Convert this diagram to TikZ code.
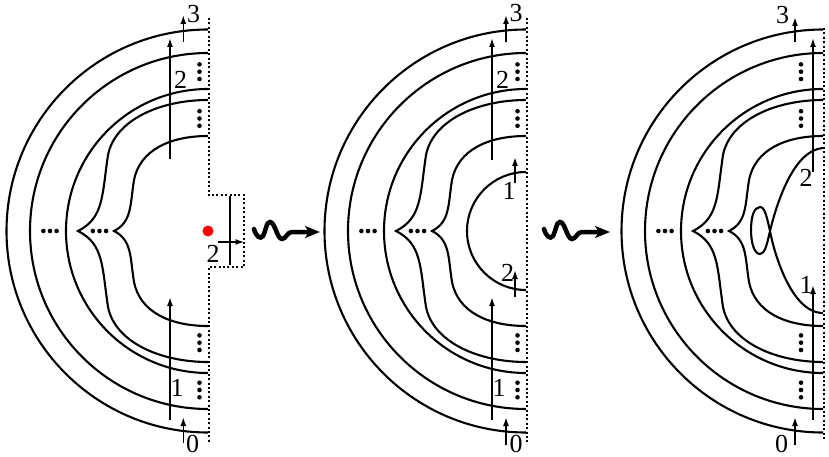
\documentclass[tikz,border=0pt]{standalone}
\usepackage{fontspec}
\setmainfont{Liberation Serif}
\usetikzlibrary{arrows.meta}
\newcommand{\vdt}[2]{\fill (#1,#2-7.3) circle[radius=2.3pt] (#1,#2) circle[radius=2.3pt] (#1,#2+7.3) circle[radius=2.3pt];}
\newcommand{\hdt}[2]{\fill (#1-6.6,#2) circle[radius=2.3pt] (#1,#2) circle[radius=2.3pt] (#1+6.6,#2) circle[radius=2.3pt];}
\newcommand{\basefig}{%
  \draw[curve] (208,29.5) arc[start angle=90,end angle=270,radius=201.5pt];
  \draw[curve] (208,53) arc[start angle=90,end angle=270,radius=178pt];
  \draw[curve] (208,89) arc[start angle=90,end angle=270,radius=142pt];
  \draw[curve] (208,100) .. controls (160,100) and (115,120) .. (108,155)
     .. controls (102,195) and (104,218) .. (78,231)
     .. controls (104,244) and (102,267) .. (108,307)
     .. controls (115,342) and (160,362) .. (208,362);
  \draw[curve] (208,136) .. controls (170,136) and (140,150) .. (134,180)
     .. controls (130,205) and (132,222) .. (114,231)
     .. controls (132,240) and (130,257) .. (134,282)
     .. controls (140,312) and (170,326) .. (208,326);
  \hdt{50}{231}
  \hdt{99.5}{231}
}
\newcommand{\squig}{%
  \draw[wave] (254,229) .. controls (256,236) and (260,240) .. (263,236)
     .. controls (266,231) and (266,222) .. (270,222)
     .. controls (275,222) and (277,239) .. (282,239)
     .. controls (286,239) and (287,232) .. (292,232) -- (320,232);
}
\begin{document}
\begin{tikzpicture}[x=1pt,y=-1pt,
  curve/.style={line width=2.1pt},
  arr/.style={line width=1.6pt,-{Latex[length=9pt,width=6pt]}},
  bound/.style={line width=2pt,dash pattern=on 2pt off 2.4pt},
  lab/.style={font=\fontsize{26}{26}\selectfont,inner sep=0pt,anchor=center},
  wave/.style={line width=4.5pt,line cap=round,-{Stealth[length=15pt,width=12pt,inset=4pt]}}]
\useasboundingbox (0,0) rectangle (829,457);

% ---------- left figure ----------
\basefig
\draw[bound] (208.5,18) -- (208.5,195) -- (244,195) -- (244,267) -- (208.5,267) -- (208.5,443);
\vdt{199.5}{71.7}
\vdt{199.5}{118.5}
\vdt{199.5}{342.7}
\vdt{199.5}{390}
\draw[arr] (183.3,42) -- (183.3,15);
\draw[arr] (170,159) -- (170,38);
\draw[arr] (170,420) -- (170,297);
\draw[arr] (183.3,443) -- (183.3,417);
\draw[line width=1.8pt] (230,196) -- (230,265);
\draw[arr] (218,242) -- (244.5,242);
\fill[red] (208,231) circle[radius=5.5pt];
\node[lab] (l3) at (193.5,14.5) {3};
\node[lab] (l2) at (180.5,79.5) {2};
\node[lab] (l1) at (177,388) {1};
\node[lab] (l0) at (192.5,444) {0};
\node[lab] (ln) at (213,253.5) {2};

% ---------- squiggle arrows ----------
\squig
\begin{scope}[xshift=290pt]
\squig
\end{scope}

% ---------- middle figure ----------
\begin{scope}[xshift=318pt]
\basefig
\end{scope}
\draw[curve] (526,172) arc[start angle=90,end angle=270,radius=59pt];
\draw[bound] (527,18) -- (527,443);
\vdt{517.5}{71.7}
\vdt{517.5}{118.5}
\vdt{517.5}{342.7}
\vdt{517.5}{390}
\draw[arr] (506,42) -- (506,15);
\draw[arr] (492,160) -- (492,38);
\draw[arr] (515,183) -- (515,157);
\draw[arr] (515,297) -- (515,270);
\draw[arr] (492,420) -- (492,297);
\draw[arr] (506,445) -- (506,417);
\node[lab] (m3) at (516,13.5) {3};
\node[lab] (m2) at (502.5,79.5) {2};
\node[lab] (m1s) at (509,191) {1};
\node[lab] (m2s) at (507.5,273) {2};
\node[lab] (m1) at (499,388) {1};
\node[lab] (m0) at (516,444) {0};

% ---------- right figure ----------
\begin{scope}[xshift=615pt]
\basefig
\end{scope}
\draw[curve] (823,148) .. controls (795,150) and (778,198) .. (770,231)
   .. controls (767,244) and (765,254) .. (760,254)
   .. controls (754,254) and (751,242) .. (751,230)
   .. controls (751,217) and (754,207) .. (760,207)
   .. controls (765,207) and (767,218) .. (770,231)
   .. controls (773,248) and (790,313) .. (823,313);
\draw[bound] (824,28) -- (824,441);
\vdt{801}{71.7}
\vdt{801}{118.5}
\vdt{801}{342.7}
\vdt{801}{390}
\draw[arr] (795,42) -- (795,17);
\draw[arr] (813,172) -- (813,38);
\draw[arr] (813,420) -- (813,285);
\draw[arr] (795,445) -- (795,417);
\node[lab] (r3) at (782.5,15.5) {3};
\node[lab] (r2) at (806,178) {2};
\node[lab] (r1) at (806,285) {1};
\node[lab] (r0) at (781.5,444) {0};
\end{tikzpicture}
\end{document}
